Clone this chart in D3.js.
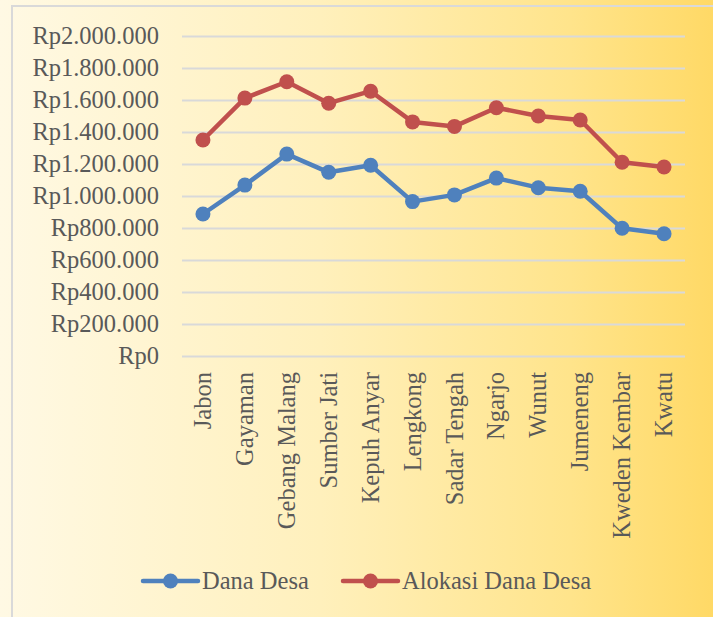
<!DOCTYPE html>
<html>
<head>
<meta charset="utf-8">
<script src="https://cdn.jsdelivr.net/npm/d3@7"></script>
<style>
  body { margin: 0; }
  svg text { font-family: "Liberation Serif", "DejaVu Serif", serif; fill: #595959; }
</style>
</head>
<body>
<div class="chart"></div>
<script>
// data
const villages = ["Jabon", "Gayaman", "Gebang Malang", "Sumber Jati", "Kepuh Anyar", "Lengkong",
    "Sadar Tengah", "Ngarjo", "Wunut", "Jumeneng", "Kweden Kembar", "Kwatu"];
const danaDesa = [887500, 1068000, 1262000, 1148000, 1192000, 965000,
    1007000, 1112000, 1052000, 1030000, 798000, 764000];
const alokasiDanaDesa = [1350000, 1612000, 1714000, 1580000, 1655000, 1463000,
    1435000, 1552000, 1500000, 1475000, 1211000, 1181000];
const seriesNames = ["Dana Desa", "Alokasi Dana Desa"];
const yTicks = [0, 200000, 400000, 600000, 800000, 1000000, 1200000, 1400000, 1600000, 1800000, 2000000];

const W = 713, H = 617;
const colors = ["#4f81bd", "#c0504d"];
const fontSize = 24.5;

const svg = d3.select(".chart").append("svg")
    .attr("width", W)
    .attr("height", H);

// background gradient
const grad = svg.append("defs").append("linearGradient")
    .attr("id", "bg")
    .attr("x1", "0%").attr("x2", "100%").attr("y1", "0%").attr("y2", "0%");
grad.append("stop").attr("offset", "0%").attr("stop-color", "#fff9e4");
grad.append("stop").attr("offset", "45%").attr("stop-color", "#fff0bc");
grad.append("stop").attr("offset", "80%").attr("stop-color", "#ffe48b");
grad.append("stop").attr("offset", "100%").attr("stop-color", "#ffd966");

svg.append("rect")
    .attr("width", W).attr("height", H)
    .attr("fill", "url(#bg)");

// chart border (runs off the right and bottom)
svg.append("rect")
    .attr("x", 12).attr("y", 6)
    .attr("width", W + 20).attr("height", H + 20)
    .attr("fill", "none")
    .attr("stroke", "#d9d9d9")
    .attr("stroke-width", 2);

// scales
const x = d3.scaleBand()
    .domain(villages)
    .range([182, 685]);

const y = d3.scaleLinear()
    .domain([0, 2000000])
    .range([356, 36]);

const fmt = v => "Rp" + d3.format(",")(v).replace(/,/g, ".");

// y axis with gridlines
const yAxis = d3.axisLeft(y)
    .tickValues(yTicks)
    .tickSize(-(685 - 182))
    .tickPadding(23)
    .tickFormat(fmt);

const gy = svg.append("g")
    .attr("class", "y-axis")
    .attr("transform", "translate(182,0)")
    .call(yAxis);
gy.select(".domain").remove();
gy.selectAll(".tick line")
    .attr("stroke", "#d9d9d9")
    .attr("stroke-width", 2);
gy.selectAll(".tick text")
    .attr("font-size", fontSize)
    .style("font-family", null);

// x labels
const xAxis = d3.axisBottom(x)
    .tickSize(0)
    .tickPadding(0);

const gx = svg.append("g")
    .attr("class", "x-axis")
    .attr("transform", "translate(0,356)")
    .call(xAxis);
gx.select(".domain").remove();
gx.selectAll(".tick text")
    .attr("font-size", fontSize)
    .style("font-family", null)
    .attr("text-anchor", "end")
    .attr("transform", "rotate(-90)")
    .attr("x", -16)
    .attr("y", 0)
    .attr("dy", "0.33em");

// lines + markers
const line = d3.line()
    .x((d, i) => x(villages[i]) + x.bandwidth() / 2)
    .y(d => y(d));

[danaDesa, alokasiDanaDesa].forEach((vals, k) => {
    svg.append("path")
        .datum(vals)
        .attr("fill", "none")
        .attr("stroke", colors[k])
        .attr("stroke-width", 4.5)
        .attr("stroke-linejoin", "round")
        .attr("stroke-linecap", "round")
        .attr("d", line);

    svg.selectAll(".pt" + k)
        .data(vals)
        .enter().append("circle")
        .attr("class", "pt" + k)
        .attr("cx", (d, i) => x(villages[i]) + x.bandwidth() / 2)
        .attr("cy", d => y(d))
        .attr("r", 7.5)
        .attr("fill", colors[k]);
});

// legend
const legendX = [143, 343];
const legend = svg.selectAll(".legend")
    .data(seriesNames)
    .enter().append("g")
    .attr("class", "legend")
    .attr("transform", (d, i) => "translate(" + legendX[i] + ",581)");

legend.append("line")
    .attr("x1", 0).attr("x2", 55)
    .attr("stroke", (d, i) => colors[i])
    .attr("stroke-width", 4.5)
    .attr("stroke-linecap", "round");
legend.append("circle")
    .attr("cx", 27.5)
    .attr("r", 7.5)
    .attr("fill", (d, i) => colors[i]);
legend.append("text")
    .attr("x", 59)
    .attr("dy", "0.33em")
    .attr("font-size", fontSize)
    .text(d => d);
</script>
</body>
</html>
